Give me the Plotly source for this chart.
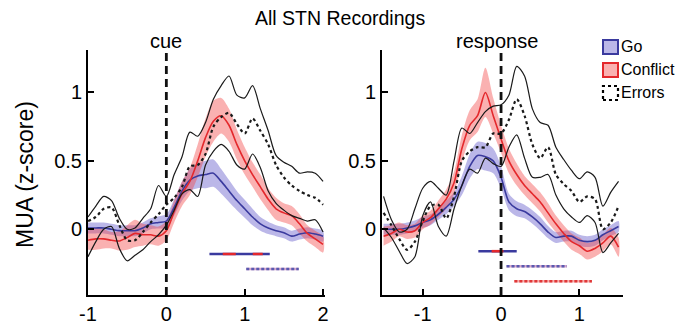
import plotly.graph_objects as go

# ---------------- data ----------------
cue_t = [-1.0, -0.9, -0.8, -0.7, -0.6, -0.5, -0.4, -0.3, -0.2, -0.1, 0.0,
         0.1, 0.2, 0.3, 0.4, 0.5, 0.6, 0.7, 0.8, 0.9, 1.0,
         1.1, 1.2, 1.3, 1.4, 1.5, 1.6, 1.7, 1.8, 1.9, 2.0]
cue_go = [0.01, 0.01, 0.01, 0.0, -0.01, -0.01, -0.01, 0.01, 0.04, 0.05, 0.06,
          0.16, 0.28, 0.36, 0.39, 0.40, 0.41, 0.35, 0.28, 0.21, 0.15,
          0.09, 0.04, 0.01, -0.01, -0.025, -0.05, -0.035, -0.025, -0.035, -0.05]
cue_go_sem = [0.04, 0.04, 0.04, 0.04, 0.04, 0.04, 0.04, 0.04, 0.04, 0.045, 0.05,
              0.06, 0.07, 0.08, 0.09, 0.10, 0.10, 0.09, 0.08, 0.07, 0.065,
              0.06, 0.05, 0.045, 0.04, 0.04, 0.04, 0.04, 0.04, 0.04, 0.04]
cue_conf = [-0.08, -0.07, -0.07, -0.08, -0.085, -0.06, -0.03, -0.04, -0.04, -0.05, -0.01,
            0.13, 0.26, 0.35, 0.50, 0.67, 0.79, 0.83, 0.76, 0.62, 0.50,
            0.40, 0.31, 0.22, 0.15, 0.12, 0.10, 0.04, -0.03, -0.07, -0.11]
cue_conf_sem = [0.07, 0.08, 0.07, 0.06, 0.07, 0.09, 0.10, 0.08, 0.07, 0.07, 0.07,
                0.08, 0.09, 0.10, 0.12, 0.14, 0.15, 0.13, 0.12, 0.11, 0.10,
                0.09, 0.09, 0.08, 0.08, 0.07, 0.07, 0.07, 0.06, 0.06, 0.06]
cue_err = [0.06, 0.09, 0.15, 0.16, 0.03, -0.08, -0.08, -0.02, 0.05, 0.11, 0.18,
           0.23, 0.31, 0.46, 0.47, 0.55, 0.75, 0.82, 0.85, 0.77, 0.70,
           0.81, 0.72, 0.62, 0.47, 0.38, 0.32, 0.28, 0.25, 0.23, 0.18]
cue_err_hi = [0.09, 0.17, 0.24, 0.21, 0.08, 0.0, 0.01, 0.08, 0.15, 0.32, 0.24,
              0.40, 0.53, 0.71, 0.68, 0.78, 0.95, 1.05, 1.12, 0.98, 0.96,
              1.05, 0.88, 0.72, 0.54, 0.49, 0.46, 0.41, 0.42, 0.41, 0.35]
cue_err_lo = [-0.20, -0.09, 0.0, 0.02, -0.14, -0.23, -0.19, -0.15, -0.09, -0.04, 0.03,
              0.14, 0.26, 0.29, 0.24, 0.47, 0.57, 0.62, 0.57, 0.47, 0.44,
              0.55, 0.45, 0.28, 0.19, 0.14, 0.10, 0.08, 0.06, 0.07, -0.02]

resp_t = [-1.5, -1.4, -1.3, -1.2, -1.1, -1.0, -0.9, -0.8, -0.7, -0.6, -0.5,
          -0.4, -0.3, -0.2, -0.1, 0.0, 0.1, 0.2, 0.3, 0.4, 0.5,
          0.6, 0.7, 0.8, 0.9, 1.0, 1.1, 1.2, 1.3, 1.4, 1.5]
resp_go = [0.0, 0.0, 0.0, 0.01, 0.025, 0.05, 0.07, 0.11, 0.16, 0.22, 0.32,
           0.46, 0.54, 0.53, 0.50, 0.38, 0.20, 0.15, 0.13, 0.09, 0.04,
           -0.02, -0.06, -0.05, -0.05, -0.08, -0.09, -0.08, -0.04, -0.01, 0.02]
resp_go_sem = [0.04, 0.04, 0.04, 0.04, 0.04, 0.04, 0.04, 0.04, 0.05, 0.05, 0.07,
               0.09, 0.10, 0.10, 0.09, 0.08, 0.06, 0.055, 0.05, 0.05, 0.05,
               0.045, 0.04, 0.04, 0.04, 0.04, 0.04, 0.04, 0.04, 0.04, 0.04]
resp_conf = [-0.05, -0.03, 0.0, -0.02, -0.01, 0.05, 0.085, 0.15, 0.22, 0.34, 0.59,
             0.76, 0.83, 1.00, 0.83, 0.66, 0.50, 0.40, 0.32, 0.26, 0.20,
             0.12, 0.04, -0.03, -0.09, -0.12, -0.16, -0.14, -0.10, -0.05, -0.13]
resp_conf_sem = [0.07, 0.06, 0.05, 0.05, 0.05, 0.05, 0.05, 0.06, 0.07, 0.08, 0.10,
                 0.11, 0.12, 0.18, 0.13, 0.10, 0.09, 0.08, 0.07, 0.07, 0.07,
                 0.07, 0.06, 0.06, 0.06, 0.06, 0.06, 0.06, 0.06, 0.06, 0.07]
resp_err = [0.12, 0.03, -0.07, -0.15, -0.09, 0.06, 0.17, 0.18, 0.08, 0.24, 0.50,
            0.57, 0.60, 0.60, 0.70, 0.70, 0.80, 0.95, 0.83, 0.62, 0.52,
            0.60, 0.40, 0.33, 0.28, 0.20, 0.24, 0.22, 0.0, 0.05, 0.17]
resp_err_hi = [0.24, 0.07, -0.02, 0.0, 0.15, 0.30, 0.35, 0.30, 0.25, 0.50, 0.74,
               0.70, 0.78, 0.86, 0.90, 0.91, 0.98, 1.19, 1.12, 0.88, 0.78,
               0.76, 0.60, 0.51, 0.43, 0.37, 0.42, 0.38, 0.17, 0.27, 0.35]
resp_err_lo = [0.01, -0.06, -0.16, -0.25, -0.20, 0.10, 0.20, 0.02, -0.05, 0.15, 0.32,
               0.44, 0.41, 0.52, 0.48, 0.46, 0.60, 0.69, 0.52, 0.38, 0.38,
               0.40, 0.25, 0.15, 0.09, 0.05, 0.10, 0.05, -0.17, -0.10, -0.03]

# significance bars (time intervals, level)
cue_sig_gc = [0.55, 1.32]; cue_sig_gc_red = [0.72, 1.23]; cue_sig_gc_y = -0.18
cue_sig_ge = [1.02, 1.69]; cue_sig_ge_y = -0.29
resp_sig_gc = [-0.29, 0.20]; resp_sig_gc_red = [-0.12, 0.03]; resp_sig_gc_y = -0.16
resp_sig_ge = [0.07, 0.84]; resp_sig_ge_y = -0.27
resp_sig_ce = [0.17, 1.16]; resp_sig_ce_y = -0.38

event_t = 0.0
y_ticks = [0, 0.5, 1]
y_tick_text = ["0", "0.5", "1"]
cue_xticks = [-1, 0, 1, 2]
cue_xtick_text = ["-1", "0", "1", "2"]
resp_xticks = [-1, 0, 1]
resp_xtick_text = ["-1", "0", "1"]

# ---------------- style ----------------
FONT = "Liberation Sans, Arial, Helvetica, sans-serif"
BLUE = "#3a3a9e"
BLUE_FILL = "rgba(105,95,205,0.45)"
RED = "#e4282c"
RED_FILL = "rgba(242,70,70,0.42)"
W, H = 678, 324

fig = go.Figure()


def band(t, m, s, fill, xa, ya):
    up = [a + b for a, b in zip(m, s)]
    lo = [a - b for a, b in zip(m, s)]
    fig.add_trace(go.Scatter(x=t + t[::-1], y=up + lo[::-1], fill="toself",
                             fillcolor=fill, line=dict(width=0, shape="spline", smoothing=0.8),
                             mode="lines", hoverinfo="skip", showlegend=False,
                             xaxis=xa, yaxis=ya))


def line(t, v, color, width, dash, xa, ya):
    fig.add_trace(go.Scatter(x=t, y=v, mode="lines",
                             line=dict(color=color, width=width, dash=dash,
                                       shape="spline", smoothing=0.8),
                             showlegend=False, xaxis=xa, yaxis=ya))


def seg(xs, yv, color, width, dash, xa, ya):
    fig.add_trace(go.Scatter(x=xs, y=[yv] * len(xs), mode="lines",
                             line=dict(color=color, width=width, dash=dash),
                             showlegend=False, xaxis=xa, yaxis=ya))


for (t, go_m, go_s, cf_m, cf_s, er, hi, lo, xa, ya) in [
        (cue_t, cue_go, cue_go_sem, cue_conf, cue_conf_sem, cue_err, cue_err_hi, cue_err_lo, "x", "y"),
        (resp_t, resp_go, resp_go_sem, resp_conf, resp_conf_sem, resp_err, resp_err_hi, resp_err_lo, "x2", "y2")]:
    band(t, go_m, go_s, BLUE_FILL, xa, ya)
    band(t, cf_m, cf_s, RED_FILL, xa, ya)
    line(t, go_m, BLUE, 1.6, "solid", xa, ya)
    line(t, cf_m, RED, 1.6, "solid", xa, ya)
    line(t, hi, "#1a1a1a", 1.2, "solid", xa, ya)
    line(t, lo, "#1a1a1a", 1.2, "solid", xa, ya)
    line(t, er, "#1a1a1a", 2.2, "dot", xa, ya)

# significance bars, cue
seg(cue_sig_gc, cue_sig_gc_y, BLUE, 2.6, "solid", "x", "y")
seg(cue_sig_gc_red, cue_sig_gc_y, RED, 2.6, "13px,17px", "x", "y")
seg(cue_sig_ge, cue_sig_ge_y, "#d8a8cc", 2.6, "solid", "x", "y")
seg(cue_sig_ge, cue_sig_ge_y, "#5a5ab0", 2.6, "3px,2px", "x", "y")
# significance bars, response
seg(resp_sig_gc, resp_sig_gc_y, BLUE, 2.6, "solid", "x2", "y2")
seg(resp_sig_gc_red, resp_sig_gc_y, RED, 2.6, "solid", "x2", "y2")
seg(resp_sig_ge, resp_sig_ge_y, "#d8a8cc", 2.6, "solid", "x2", "y2")
seg(resp_sig_ge, resp_sig_ge_y, "#5a5ab0", 2.6, "3px,2px", "x2", "y2")
seg(resp_sig_ce, resp_sig_ce_y, "#f6b0b0", 2.6, "solid", "x2", "y2")
seg(resp_sig_ce, resp_sig_ce_y, "#e03838", 2.6, "3px,2px", "x2", "y2")

# event lines
for xr, yr in [("x", "y domain"), ("x2", "y2 domain")]:
    fig.add_shape(type="line", xref=xr, yref=yr, x0=event_t, x1=event_t, y0=0, y1=1.0,
                  line=dict(color="#111111", width=2.8, dash="8px,5px"), layer="above")

ydom = [29 / H, 274 / H]
axis_common = dict(showgrid=False, zeroline=False, showline=True, linecolor="black",
                   linewidth=2, ticks="inside", ticklen=6, tickwidth=2, tickcolor="black",
                   tickfont=dict(family=FONT, size=20, color="black"), mirror=False,
                   automargin=False)
fig.update_layout(
    width=W, height=H, autosize=False,
    margin=dict(l=0, r=0, t=0, b=0, pad=0),
    paper_bgcolor="white", plot_bgcolor="white",
    xaxis=dict(domain=[88 / W, 325 / W], range=[-1.0, 2.025], tickvals=cue_xticks,
               ticktext=cue_xtick_text, anchor="y", **axis_common),
    yaxis=dict(domain=ydom, range=[-0.48, 1.31], tickvals=y_ticks, ticktext=y_tick_text,
               anchor="x", **axis_common),
    xaxis2=dict(domain=[382 / W, 623 / W], range=[-1.52, 1.557], tickvals=resp_xticks,
                ticktext=resp_xtick_text, anchor="y2", **axis_common),
    yaxis2=dict(domain=ydom, range=[-0.48, 1.31], tickvals=y_ticks, ticktext=y_tick_text,
                anchor="x2", **axis_common),
)

ann = []
ann.append(dict(text="All STN Recordings", xref="paper", yref="paper", x=340 / W, y=1 - 18 / H,
                showarrow=False, font=dict(family=FONT, size=19.5, color="black"),
                xanchor="center", yanchor="middle"))
ann.append(dict(text="cue", xref="x", yref="paper", x=event_t, y=1 - 41 / H,
                showarrow=False, font=dict(family=FONT, size=20, color="black"),
                xanchor="center", yanchor="middle"))
ann.append(dict(text="response", xref="x2", yref="paper", x=event_t, y=1 - 41 / H, xshift=-4,
                showarrow=False, font=dict(family=FONT, size=20, color="black"),
                xanchor="center", yanchor="middle"))
ann.append(dict(text="MUA (z-score)", xref="paper", yref="paper", x=25 / W, y=1 - 175 / H,
                textangle=-90, showarrow=False, font=dict(family=FONT, size=23, color="black"),
                xanchor="center", yanchor="middle"))

# legend (drawn manually)
legend_items = [("Go", 47, BLUE_FILL, BLUE, "solid", 2),
                ("Conflict", 70, RED_FILL, RED, "solid", 2),
                ("Errors", 93, "white", "black", "dot", 2.2)]
for name, yc, fc, lc, dsh, lw in legend_items:
    fig.add_shape(type="rect", xref="paper", yref="paper",
                  x0=603 / W, x1=618 / W, y0=1 - (yc + 7) / H, y1=1 - (yc - 7) / H,
                  fillcolor=fc, line=dict(color=lc, width=lw, dash=dsh))
    ann.append(dict(text=name, xref="paper", yref="paper", x=619 / W, y=1 - yc / H,
                    showarrow=False, font=dict(family=FONT, size=16, color="black"),
                    xanchor="left", yanchor="middle"))
fig.update_layout(annotations=ann)

fig.write_html("out.html")
